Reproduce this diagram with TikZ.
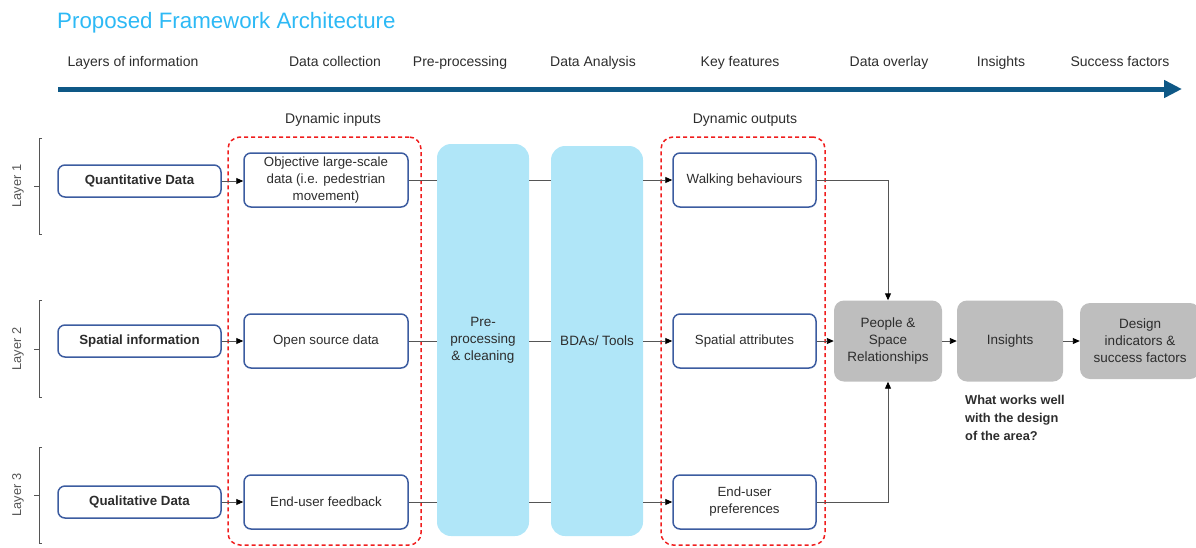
\documentclass[tikz,border=0pt]{standalone}
\usepackage{fontspec}
\setmainfont{Liberation Sans}
\usetikzlibrary{arrows.meta}
\definecolor{titleblue}{RGB}{45,185,245}
\definecolor{arrowblue}{RGB}{14,88,134}
\definecolor{boxblue}{RGB}{60,92,160}
\definecolor{colblue}{RGB}{176,230,248}
\definecolor{boxgray}{RGB}{190,190,190}
\definecolor{txt}{RGB}{45,45,45}
\definecolor{dynred}{RGB}{240,30,30}
\definecolor{conngray}{RGB}{85,85,85}
\begin{document}
\begin{tikzpicture}[x=1pt,y=-1pt,
  hdr/.style={anchor=base,text=txt,font=\fontsize{14}{16}\selectfont,inner sep=0},
  inbox/.style={draw=boxblue,line width=1.5pt,rounded corners=7pt,fill=white,align=center,text=txt,inner sep=0,font=\fontsize{13.3}{17}\selectfont},
  layerbox/.style={inbox,minimum width=163pt,minimum height=32pt,font=\bfseries\fontsize{13.3}{17}\selectfont},
  colbox/.style={fill=colblue,rounded corners=14pt,align=center,text=txt,inner sep=0,font=\fontsize{13.5}{17}\selectfont},
  graybox/.style={fill=boxgray,rounded corners=10pt,align=center,text=txt,inner sep=0,font=\fontsize{13.5}{17}\selectfont},
  dynbox/.style={draw=dynred,line width=1.5pt,dash pattern=on 4pt off 3pt,rounded corners=12pt,inner sep=0},
  conn/.style={draw=conngray,line width=0.9pt},
  arr/.style={conn,-{Triangle[length=7pt,width=6pt,color=black]}},
  layertxt/.style={rotate=90,text=conngray,font=\fontsize{12.8}{14}\selectfont,inner sep=0},
  brack/.style={draw=conngray,line width=0.9pt}
]
\useasboundingbox (0,0) rectangle (1196,547);

% title
\node[anchor=west,text=titleblue,font=\fontsize{22.3}{26}\selectfont,inner sep=0] (title) at (57,23) {Proposed Framework Architecture};

% headers
\node[hdr] (h1) at (133,66) {Layers of information};
\node[hdr] (h2) at (335,66) {Data collection};
\node[hdr] (h3) at (460,66) {Pre-processing};
\node[hdr] (h4) at (593,66) {Data Analysis};
\node[hdr] (h5) at (740,66) {Key features};
\node[hdr] (h6) at (889,66) {Data overlay};
\node[hdr] (h7) at (1001,66) {Insights};
\node[hdr] (h8) at (1120,66) {Success factors};

% big arrow
\coordinate (a0) at (58,89);
\coordinate (a1) at (1182,89);
\draw[arrowblue,line width=5pt,-{Triangle[length=18pt,width=17pt]}] (a0) -- (a1);

% dynamic labels
\node[hdr] (dinl) at (333,123) {Dynamic inputs};
\node[hdr] (doutl) at (745,123) {Dynamic outputs};

% blue columns
\node[colbox,minimum width=92pt,minimum height=392pt] (pre) at (483,340) {Pre-\\processing\\\& cleaning};
\node[colbox,minimum width=92pt,minimum height=390pt] (bda) at (597,341) {BDAs/ Tools};

% dashed group boxes
\node[dynbox,minimum width=193pt,minimum height=408pt] (din) at (324.5,341) {};
\node[dynbox,minimum width=164pt,minimum height=408pt] (dout) at (743,341) {};

% layer brackets
\foreach \i/\t/\b/\m in {1/138/234/186, 2/300/397/349, 3/447/543/495}{
  \draw[brack] (42,\t) -- (39,\t) -- (39,\b) -- (42,\b);
  \draw[brack] (39,\m) -- (34,\m);
  \node[layertxt] (lay\i) at (18,\m) {Layer \i};
}

% layer boxes
\node[layerbox] (quant) at (139.5,181) {Quantitative Data};
\node[layerbox] (spat) at (139.5,341) {Spatial information};
\node[layerbox] (qual) at (139.5,502) {Qualitative Data};

% data collection boxes
\node[inbox,minimum width=164pt,minimum height=54pt] (obj) at (326,180) {Objective large-scale\\data (i.e. pedestrian\\movement)};
\node[inbox,minimum width=164pt,minimum height=54pt] (open) at (326,341) {Open source data};
\node[inbox,minimum width=164pt,minimum height=54pt] (feed) at (326,502) {End-user feedback};

% key feature boxes
\node[inbox,minimum width=143pt,minimum height=54pt] (walk) at (744.5,180) {Walking behaviours};
\node[inbox,minimum width=143pt,minimum height=54pt] (satt) at (744.5,341) {Spatial attributes};
\node[inbox,minimum width=143pt,minimum height=54pt] (pref) at (744.5,502) {End-user\\preferences};

% gray boxes
\node[graybox,minimum width=108pt,minimum height=81pt] (ppl) at (888,341) {People \&\\Space\\Relationships};
\node[graybox,minimum width=106pt,minimum height=81pt] (ins) at (1010,341) {Insights};
\node[graybox,minimum width=120pt,minimum height=76pt] (des) at (1140,341) {Design\\indicators \&\\success factors};

% question
\node[anchor=north west,align=left,text=txt,font=\bfseries\fontsize{12.8}{18}\selectfont,inner sep=0] (q) at (965,395) {What works well\\with the design\\of the area?};

% connectors
\draw[arr] (quant.east) -- (quant.east -| obj.west);
\draw[arr] (spat) -- (open);
\draw[arr] (qual) -- (feed);
\foreach \s/\k in {obj/walk, open/satt, feed/pref}{
  \draw[conn] (\s.east) -- (\s.east -| pre.west);
  \draw[conn] (\s.east -| pre.east) -- (\s.east -| bda.west);
  \draw[arr] (\s.east -| bda.east) -- (\k.west);
}
\draw[arr] (walk.east) -| (ppl.north);
\draw[arr] (pref.east) -| (ppl.south);
\draw[arr] (satt) -- (ppl);
\draw[arr] (ppl) -- (ins);
\draw[arr] (ins) -- (des);
\end{tikzpicture}
\end{document}
